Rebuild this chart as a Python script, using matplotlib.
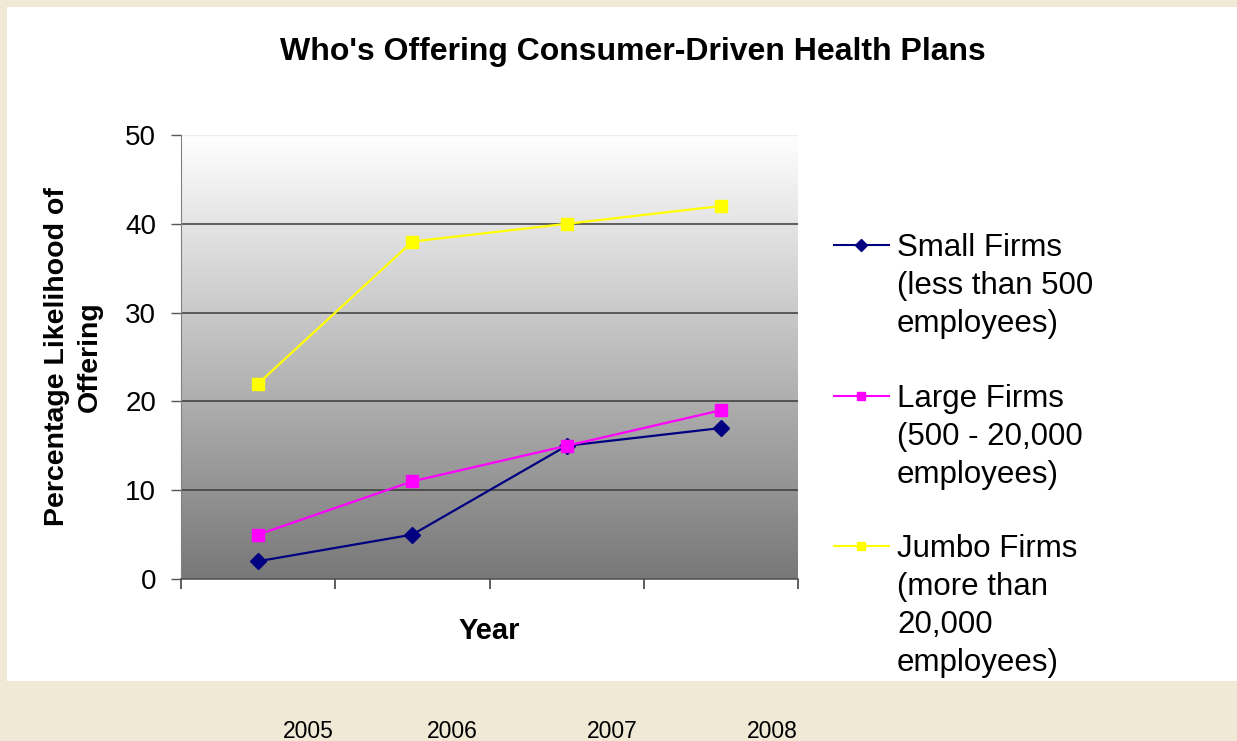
import numpy as np
import matplotlib
matplotlib.use("Agg")
import matplotlib.pyplot as plt
from matplotlib.lines import Line2D
from matplotlib.patches import Rectangle

plt.rcParams['font.family'] = ['Liberation Sans', 'DejaVu Sans']

# data
years = ['2005', '2006', '2007', '2008']
small_firms = [2, 5, 15, 17]
large_firms = [5, 11, 15, 19]
jumbo_firms = [22, 38, 40, 42]

labels = ['Small Firms\n(less than 500\nemployees)',
          'Large Firms\n(500 - 20,000\nemployees)',
          'Jumbo Firms\n(more than\n20,000\nemployees)']
colors = ['#000080', '#FF00FF', '#FFFF00']
markers = ['D', 's', 's']
msizes = [8.5, 8.5, 8.5]

W, H = 1237, 741
fig = plt.figure(figsize=(W / 100, H / 100), dpi=100)
fig.patch.set_facecolor('#EFE9D6')
# white panel behind the chart
fig.add_artist(Rectangle((7 / W, 1 - 681 / H), 1 - 7 / W, (681 - 7) / H,
                         transform=fig.transFigure, facecolor='white',
                         edgecolor='none', zorder=0))

ax = fig.add_axes([181 / W, 1 - 579 / H, (798 - 181) / W, (579 - 135) / H])
ax.set_facecolor('none')

x = np.arange(len(years))
ax.set_xlim(-0.5, len(years) - 0.5)
ax.set_ylim(0, 50)

# vertical grey gradient for the plot area
grad = np.linspace(0, 1, 256).reshape(-1, 1)
ax.imshow(grad, cmap=matplotlib.colors.LinearSegmentedColormap.from_list(
    'g', ['#787878', '#FFFFFF']), aspect='auto', origin='lower',
    extent=(-0.5, len(years) - 0.5, 0, 50), zorder=0)

for yv in [10, 20, 30, 40]:
    ax.axhline(yv, color='#3a3a3a', linewidth=1.1, zorder=1)
ax.axhline(50, color='#eeeeee', linewidth=1, zorder=1)

series = [small_firms, large_firms, jumbo_firms]
for vals, c, m, ms in zip(series, colors, markers, msizes):
    ax.plot(x, vals, color=c, marker=m, markersize=ms, linewidth=1.6,
            markerfacecolor=c, markeredgecolor=c, zorder=3, clip_on=False)

ax.set_xticks(np.arange(len(years) + 1) - 0.5)
ax.set_xticklabels([])
ax.set_yticks([0, 10, 20, 30, 40, 50])
ax.tick_params(axis='y', length=7, width=1, color='#555555', pad=11,
               labelsize=20)
ax.tick_params(axis='x', length=7.5, width=1.2, color='#444444')
for s in ['top', 'right']:
    ax.spines[s].set_visible(False)
ax.spines['left'].set_color('#808080')
ax.spines['bottom'].set_color('#555555')
ax.spines['bottom'].set_linewidth(1.2)

ax.set_xlabel('Year', fontsize=21, fontweight='bold')
ax.xaxis.set_label_coords(0.5, (579 - 617) / 444)
ax.set_ylabel('Percentage Likelihood of\nOffering', fontsize=20.5,
              fontweight='bold', linespacing=1.35)
ax.yaxis.set_label_coords((103 - 181) / 617, 0.5)

fig.text(633 / W, 1 - 52 / H, "Who's Offering Consumer-Driven Health Plans",
         fontsize=23, fontweight='bold', ha='center', va='center')

# legend drawn by hand so the marker sits on the first text line
leg_top = [245, 396, 546]
for lab, c, m, ms, yc in zip(labels, colors, markers, msizes, leg_top):
    fy = 1 - yc / H
    fig.add_artist(Line2D([834 / W, 889 / W], [fy, fy], color=c,
                          linewidth=1.5, transform=fig.transFigure))
    fig.add_artist(Line2D([861.5 / W], [fy], color=c, marker=m,
                          markersize=ms * 0.75, transform=fig.transFigure))
    fig.text(897 / W, 1 - (yc - 12) / H, lab, fontsize=22.5, ha='left',
             va='top', linespacing=1.35)

# year captions that sit under the chart
year_x = [308.5, 452.5, 612.5, 772.5]
for yr, xp in zip(years, year_x):
    fig.text(xp / W, 1 - 731 / H, yr, fontsize=16.5, ha='center', va='center')

fig.savefig('out.png', dpi=100, facecolor=fig.get_facecolor())
